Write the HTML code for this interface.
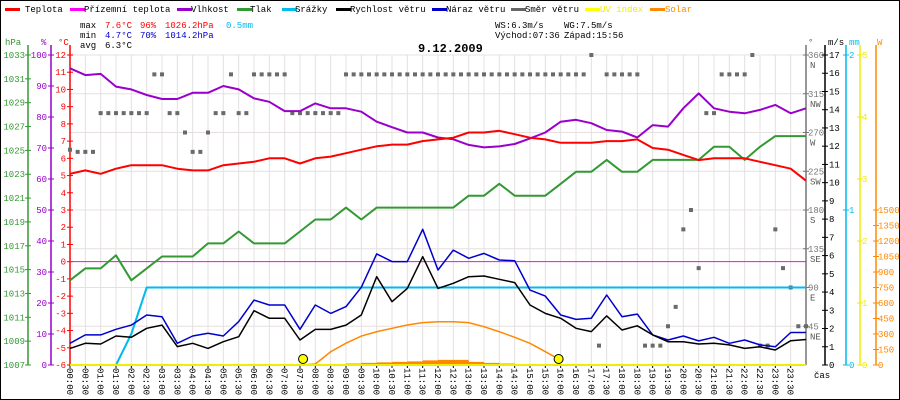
<!DOCTYPE html>
<html><head><meta charset="utf-8"><style>
html,body{margin:0;padding:0;background:#fff;}
svg{display:block;font-family:"Liberation Mono",monospace;}
text{font-size:9px;}
</style></head><body>
<svg id="chart" width="900" height="400" viewBox="0 0 900 400" xmlns="http://www.w3.org/2000/svg">
<rect x="0.5" y="0.5" width="899" height="399" fill="#fff" stroke="#000"/>
<g id="grid"></g>
<g id="legend">
 <g><rect x="5" y="8" width="15" height="3" fill="#f00"/><text x="25" y="12">Teplota</text></g>
 <g><rect x="70" y="8" width="15" height="3" fill="#f0f"/><text x="84" y="12">Přízemní teplota</text></g>
 <g><rect x="177" y="8" width="15" height="3" fill="#90c"/><text x="191" y="12">Vlhkost</text></g>
 <g><rect x="237" y="8" width="15" height="3" fill="#393"/><text x="250" y="12">Tlak</text></g>
 <g><rect x="282" y="8" width="15" height="3" fill="#0be"/><text x="295" y="12">Srážky</text></g>
 <g><rect x="336" y="8" width="15" height="3" fill="#000"/><text x="350" y="12">Rychlost větru</text></g>
 <g><rect x="432" y="8" width="15" height="3" fill="#00c"/><text x="446" y="12">Náraz větru</text></g>
 <g><rect x="511" y="8" width="15" height="3" fill="#666"/><text x="525" y="12">Směr větru</text></g>
 <g><rect x="585" y="8" width="15" height="3" fill="#ff0"/><text x="600" y="12" fill="#ee0">UV index</text></g>
 <g><rect x="650" y="8" width="15" height="3" fill="#f80"/><text x="665" y="12" fill="#f80">Solar</text></g>
</g>
<g>
 <text x="80" y="28">max</text><text x="105" y="28" fill="#f00">7.6°C</text><text x="140" y="28" fill="#f00">96%</text><text x="165" y="28" fill="#f00">1026.2hPa</text><text x="226" y="28" fill="#0be">0.5mm</text>
 <text x="80" y="38">min</text><text x="105" y="38" fill="#00c">4.7°C</text><text x="140" y="38" fill="#00c">70%</text><text x="165" y="38" fill="#00c">1014.2hPa</text>
 <text x="80" y="48">avg</text><text x="105" y="48">6.3°C</text>
 <text x="495" y="28">WS:6.3m/s</text><text x="564" y="28">WG:7.5m/s</text>
 <text x="495" y="38">Východ:07:36</text><text x="564" y="38">Západ:15:56</text>
</g>
<text x="418" y="52" style="font-size:12px;font-weight:bold">9.12.2009</text>
<g id="axes"></g>
<g id="series"></g>
</svg>
<script>
const hours=["00:00","00:30","01:00","01:30","02:00","02:30","03:00","03:30","04:00","04:30","05:00","05:30","06:00","06:30","07:00","07:30","08:00","08:30","09:00","09:30","10:00","10:30","11:00","11:30","12:00","12:30","13:00","13:30","14:00","14:30","15:00","15:30","16:00","16:30","17:00","17:30","18:00","18:30","19:00","19:30","20:00","20:30","21:00","21:30","22:00","22:30","23:00","23:30"];
const temp=[5.1,5.3,5.1,5.4,5.6,5.6,5.6,5.4,5.3,5.3,5.6,5.7,5.8,6.0,6.0,5.7,6.0,6.1,6.3,6.5,6.7,6.8,6.8,7.0,7.1,7.2,7.5,7.5,7.6,7.4,7.2,7.1,6.9,6.9,6.9,7.0,7.0,7.1,6.6,6.5,6.2,5.9,6.0,6.0,6.0,5.8,5.6,5.4,4.7];
const groundTemp=[0,0];
const hum=[95.7,93.5,93.9,89.8,88.9,87.1,85.8,85.8,87.8,87.8,90,88.9,86,84.9,81.9,81.9,84.4,82.8,82.8,81.7,78.5,76.7,75,75,73.4,72.8,71,70.2,70.5,71.3,73.1,75,78.5,79.1,78,75.8,75.3,73.4,77.4,76.9,82.8,87.6,82.8,81.7,81.2,82.3,83.9,81.2,82.8];
const press=[1014.1,1015.1,1015.1,1016.2,1014.1,1015.1,1016.1,1016.1,1016.1,1017.2,1017.2,1018.2,1017.2,1017.2,1017.2,1018.2,1019.2,1019.2,1020.2,1019.2,1020.2,1020.2,1020.2,1020.2,1020.2,1020.2,1021.2,1021.2,1022.2,1021.2,1021.2,1021.2,1022.2,1023.2,1023.2,1024.2,1023.2,1023.2,1024.2,1024.2,1024.2,1024.2,1025.3,1025.3,1024.2,1025.3,1026.2,1026.2,1026.2];
const wind=[0.91,1.19,1.15,1.59,1.52,2.01,2.19,1.01,1.19,0.91,1.28,1.55,2.98,2.56,2.56,1.37,1.95,1.95,2.19,2.74,4.84,3.47,4.2,5.94,4.2,4.48,4.84,4.88,4.7,4.52,3.29,2.83,2.56,2.01,1.83,2.69,1.92,2.15,1.65,1.28,1.28,1.15,1.19,1.1,0.91,1.0,0.82,1.33,1.4];
const gust=[1.19,1.65,1.65,1.96,2.19,2.74,2.65,1.19,1.59,1.74,1.59,2.38,3.56,3.29,3.29,1.96,3.29,2.83,3.2,4.26,6.09,5.67,5.67,7.44,5.21,6.3,5.85,6.12,5.76,5.72,4.11,3.78,2.74,2.5,2.56,3.84,2.65,2.79,1.65,1.37,1.59,1.32,1.52,1.19,1.37,1.1,1.0,1.78,1.78];
const precip=[0,0,0,0,0.2,0.5,0.5,0.5,0.5,0.5,0.5,0.5,0.5,0.5,0.5,0.5,0.5,0.5,0.5,0.5,0.5,0.5,0.5,0.5,0.5,0.5,0.5,0.5,0.5,0.5,0.5,0.5,0.5,0.5,0.5,0.5,0.5,0.5,0.5,0.5,0.5,0.5,0.5,0.5,0.5,0.5,0.5,0.5,0.5];
const solarClear=[0,0,0,0,0,0,0,0,0,0,0,0,0,0,0,0,10,128,211,280,322,355,387,410,419,419,410,371,322,268,210,129,48,0,0,0,0,0,0,0,0,0,0,0,0,0,0,0,0];
const solar=[0,0,0,0,0,0,0,0,0,0,0,0,0,0,0,0,0,0,15,20,25,30,35,45,50,50,30,20,15,0,0,0,0,0,0,0,0,0,0,0,0,0,0,0,0,0,0,0,0];
const uv=[0,0];
const windDir=[250,247.5,247.5,247.5,292.5,292.5,292.5,292.5,292.5,292.5,292.5,337.5,337.5,292.5,292.5,270,247.5,247.5,270,292.5,292.5,337.5,292.5,292.5,337.5,337.5,337.5,337.5,337.5,292.5,292.5,292.5,292.5,292.5,292.5,292.5,337.5,337.5,337.5,337.5,337.5,337.5,337.5,337.5,337.5,337.5,337.5,337.5,337.5,337.5,337.5,337.5,337.5,337.5,337.5,337.5,337.5,337.5,337.5,337.5,337.5,337.5,337.5,337.5,337.5,337.5,337.5,337.5,360,22.5,337.5,337.5,337.5,337.5,337.5,22.5,22.5,22.5,45,67.5,157.5,180,112.5,292.5,292.5,337.5,337.5,337.5,337.5,360,22.5,22.5,157.5,112.5,90,45,45];
const sunTimes=[7.6,15.933];
const hpaTicks=[1033,1031,1029,1027,1025,1023,1021,1019,1017,1015,1013,1011,1009,1007];
const humTicks=[100,90,80,70,60,50,40,30,20,10,0];
const tempTicks=[12,11,10,9,8,7,6,5,4,3,2,1,0,-1,-2,-3,-4,-5,-6];
const dirTicks=[360,315,270,225,180,135,90,45];
const dirNames=["N","NW","W","SW","S","SE","E","NE"];
const msTicks=[17,16,15,14,13,12,11,10,9,8,7,6,5,4,3,2,1,0];
const mmTicks=[2,1,0];
const uvTicks=[5,4,3,2,1,0];
const wTicks=[1500,1350,1200,1050,900,750,600,450,300,150,0];

const NS="http://www.w3.org/2000/svg";
const X0=70,X1=806,Y0=55,Y1=365;
const xH=i=>X0+i*(X1-X0)/48;
const xQ=j=>X0+j*(X1-X0)/96;
const yC=t=>Y1-(t+6)*(Y1-Y0)/18;
const yHum=h=>Y1-h*(Y1-Y0)/100;
const yP=p=>Y1-(p-1007)*(Y1-Y0)/26;
const yV=v=>Y1-v*(Y1-Y0)/17;
const yD=d=>Y1-d*(Y1-Y0)/360;
const yMM=m=>Y1-m*(Y1-Y0)/2;
const yUV=u=>Y1-u*(Y1-Y0)/5;
const yS=w=>Y1-w*(Y1-Y0)/3000;
function el(tag,attrs,parent,txt){const e=document.createElementNS(NS,tag);for(const k in attrs)e.setAttribute(k,attrs[k]);if(txt!==undefined)e.textContent=txt;parent.appendChild(e);return e;}
const grid=document.getElementById('grid'),axes=document.getElementById('axes'),ser=document.getElementById('series');
for(let i=0;i<=48;i++){const l=el('line',{x1:xH(i),x2:xH(i),y1:Y0,y2:Y1,stroke:'#e6e0e0'},grid);

}
for(let k=0;k<=8;k++){const y=Y0+k*(Y1-Y0)/8;const l=el('line',{x1:X0,x2:X1,y1:y,y2:y,stroke:'#e6e0e0'},grid);

}
function vaxis(name,x,color,ticks,yf,side,lx){
 const g=el('g',{},axes);
 
 
 el('line',{x1:x,x2:x,y1:Y0-10,y2:Y1,stroke:color,'stroke-width':1.5},g);
 ticks.forEach(t=>{const y=yf(t);el('line',{x1:x-3,x2:x+3,y1:y,y2:y,stroke:color},g);
  const tx=el('text',{x:lx,y:y+3,fill:color,'text-anchor':side},g,String(t));
  
  });
 return g;}
vaxis('pressure-axis',28,'#393',hpaTicks,yP,'end',25);
vaxis('humidity-axis',51,'#90c',humTicks,yHum,'end',47);
vaxis('temperature-axis',70,'#f00',tempTicks,yC,'end',66);
const gd=vaxis('direction-axis',806,'#777',dirTicks,yD,'start',808);
dirTicks.forEach((d,k)=>{el('text',{x:810,y:yD(d)+13,fill:'#555'},gd,dirNames[k]);});
vaxis('wind-speed-axis',825,'#000',msTicks,yV,'start',829);
vaxis('precip-axis',846,'#0be',mmTicks,yMM,'start',849);
vaxis('uv-axis',860,'#ee0',uvTicks,yUV,'start',862);
vaxis('solar-axis',876,'#f80',wTicks,yS,'start',878);
[['hPa',5,'#393'],['%',41,'#90c'],['°C',58,'#f00'],['°',808,'#555'],['m/s',828,'#000'],['mm',849,'#0be'],['W',877,'#f80']].forEach(a=>{const t=el('text',{x:a[1],y:45,fill:a[2]},axes,a[0]);

});
hours.forEach((h,i)=>{const x=xH(i);el('line',{x1:x,x2:x,y1:Y1,y2:Y1+3,stroke:'#000'},axes);
 const t=el('text',{x:0,y:0,transform:`translate(${x-3},368) rotate(90)`},axes,h);
 
 });
const cas=el('text',{x:814,y:378},axes,'čas');


const gt=el('line',{x1:X0,x2:X1,y1:yC(groundTemp[0]),y2:yC(groundTemp[1]),stroke:'#f0f'},ser);


function line(name,data,yf,color,w){const pts=data.map((v,i)=>xH(i).toFixed(1)+','+yf(v).toFixed(1)).join(' ');
 const p=el('polyline',{points:pts,fill:'none',stroke:color,'stroke-width':w,'stroke-linejoin':'round'},ser);
 
 }
{let d=`M${xH(0)},${Y1}`;solar.forEach((v,i)=>{d+=` L${xH(i)},${yS(v)} L${xH(i+1>48?48:i+1)},${yS(v)}`;});d+=` L${X1},${Y1}Z`;
 const a=el('path',{d:d,fill:'#f80'},ser);
 
 }
{const pts=[[xH(sunTimes[0]*2),yS(0)]];solarClear.forEach((v,i)=>{if(v>0)pts.push([xH(i),yS(v)]);});pts.push([xH(sunTimes[1]*2),yS(0)]);
 const p=el('polyline',{points:pts.map(p=>p.join(',')).join(' '),fill:'none',stroke:'#f80','stroke-width':1.5},ser);
 
 }
windDir.forEach((d,j)=>{const r=el('rect',{x:xQ(j)-2,y:yD(d)-2,width:4,height:4,fill:'#6a6a6a'},ser);
 
 });
line('pressure-line',press,yP,'#393',2);
line('humidity-line',hum,yHum,'#90c',2);
line('temperature-line',temp,yC,'#f00',2);
line('precip-line',precip,yMM,'#0be',2);
line('gust-line',gust,yV,'#00c',1.5);
line('wind-speed-line',wind,yV,'#000',1.5);
{const u=el('line',{x1:X0,x2:X1,y1:yUV(uv[0]),y2:yUV(uv[1]),stroke:'#ee0','stroke-width':2},ser);
 
 }
sunTimes.forEach(t=>{const c=el('circle',{cx:xH(t*2),cy:359,r:4.5,fill:'#ff0',stroke:'#000'},ser);
 
 });
</script>
</body></html>
